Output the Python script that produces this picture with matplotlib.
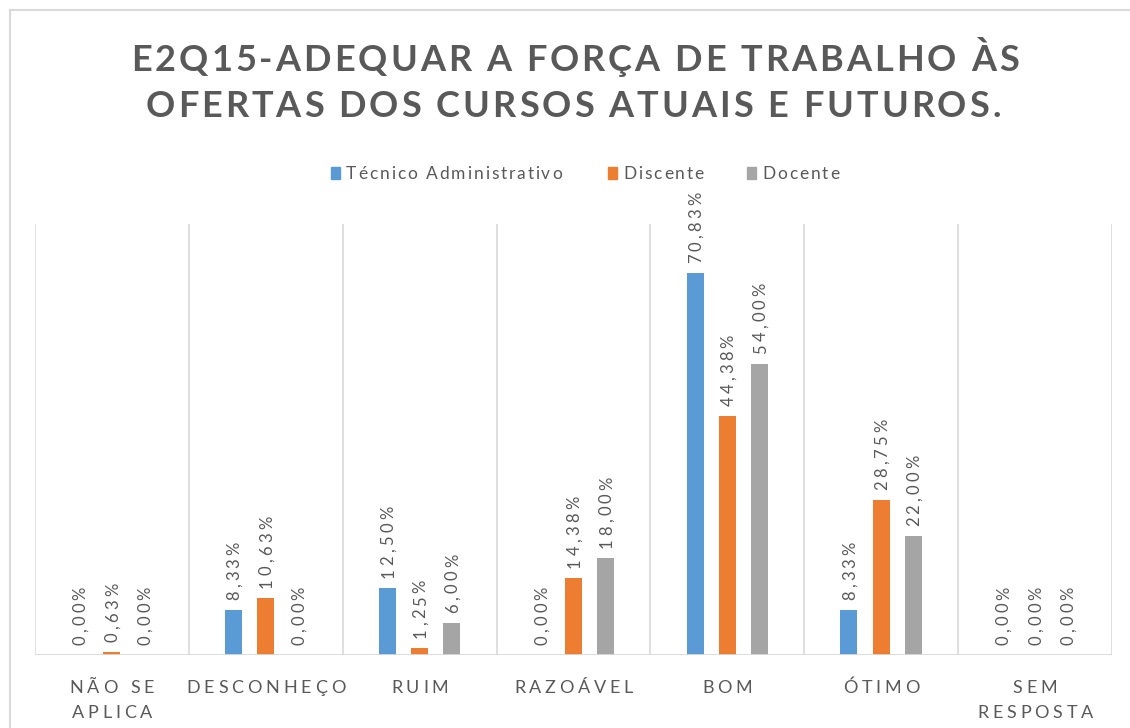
import matplotlib
matplotlib.use('Agg')
import matplotlib.pyplot as plt
from matplotlib.font_manager import FontProperties
from matplotlib.patches import Rectangle
from matplotlib.lines import Line2D
import numpy as np

# ---- data ----
categories = ["NÃO SE\nAPLICA", "DESCONHEÇO", "RUIM", "RAZOÁVEL", "BOM", "ÓTIMO", "SEM\nRESPOSTA"]
series_names = ["Técnico Administrativo", "Discente", "Docente"]
tecnico = [0.00, 8.33, 12.50, 0.00, 70.83, 8.33, 0.00]
discente = [0.63, 10.63, 1.25, 14.38, 44.38, 28.75, 0.00]
docente = [0.00, 0.00, 6.00, 18.00, 54.00, 22.00, 0.00]
title_lines = ["E2Q15-ADEQUAR A FORÇA DE TRABALHO ÀS", "OFERTAS DOS CURSOS ATUAIS E FUTUROS."]

colors = ['#5B9BD5', '#ED7D31', '#A5A5A5']
TXT = '#595959'
GRID = '#D9D9D9'
FONT = ['Lato', 'DejaVu Sans']

W, H = 1130, 728
fig = plt.figure(figsize=(W / 100, H / 100), dpi=100)
fig.patch.set_facecolor('white')
renderer = fig.canvas.get_renderer()

# chart frame (top and left edge visible)
fig.add_artist(Line2D([10 / W, 10 / W], [0, 1 - 10 / H], color=GRID, lw=1.5, transform=fig.transFigure))
fig.add_artist(Line2D([10 / W, 1], [1 - 10 / H, 1 - 10 / H], color=GRID, lw=1.5, transform=fig.transFigure))

ax = fig.add_axes([35 / W, 73 / H, (1112 - 35) / W, (655 - 224) / H])
ax.set_xlim(-0.5, len(categories) - 0.5)
ax.set_ylim(0, 80)
ax.axis('off')

x = np.arange(len(categories))
series = [tecnico, discente, docente]
offsets = [-0.21, 0.0, 0.21]
bw = 0.11

# gridlines (category separators) and baseline
ax.vlines(np.arange(-0.5, len(categories), 1), 0, 80, color=GRID, lw=1.2, zorder=0)
ax.hlines(0, -0.5, len(categories) - 0.5, color=GRID, lw=2, zorder=3)

for vals, off, col in zip(series, offsets, colors):
    ax.bar(x + off, vals, width=bw, color=col, zorder=2)


def adv(c, fp):
    w1 = renderer.get_text_width_height_descent("H" + c + "H", fp, ismath=False)[0]
    w0 = renderer.get_text_width_height_descent("HH", fp, ismath=False)[0]
    return w1 - w0


def spaced(s, px, py, size, spacing, weight='normal', color=TXT, rotation=0, ha='center'):
    """px, py in display pixels (origin bottom-left); py = baseline (or x-baseline if rotated)."""
    fp = FontProperties(family=FONT, size=size, weight=weight)
    advs = [adv(c, fp) for c in s]
    total = sum(advs) + spacing * (len(s) - 1)
    pos = -total / 2 if ha == 'center' else 0.0
    for c, a in zip(s, advs):
        if c != ' ':
            if rotation == 0:
                tx, ty = px + pos, py
            else:
                tx, ty = px, py + pos
            fig.text(tx / W, ty / H, c, fontproperties=fp, color=color, rotation=rotation,
                     rotation_mode='anchor', ha='left', va='baseline')
        pos += a + spacing
    return total


# title
spaced(title_lines[0], 575, H - 71, 26, 3.0, weight='bold')
spaced(title_lines[1], 573, H - 117, 26, 3.0, weight='bold')

# legend
leg_items = [(331, series_names[0]), (608, series_names[1]), (747, series_names[2])]
for (lx, name), col in zip(leg_items, colors):
    fig.add_artist(Rectangle((lx / W, (H - 179) / H), 9 / W, 12 / H, color=col, transform=fig.transFigure))
    spaced(name, lx + 15, H - 179, 12.5, 1.9, ha='left')

# category labels
for i, cat in enumerate(categories):
    cx = ax.transData.transform((x[i], 0))[0]
    for j, line in enumerate(cat.split('\n')):
        spaced(line, cx, H - 693 - 25 * j, 13, 3.8)

# data labels (rotated)
for vals, off in zip(series, offsets):
    for i, v in enumerate(vals):
        bx, by = ax.transData.transform((x[i] + off, v))
        lab = f"{v:.2f}%".replace('.', ',')
        spaced(lab, bx + 6, by + 10, 12, 3.2, rotation=90, ha='left')

fig.savefig('out.png', dpi=100)
